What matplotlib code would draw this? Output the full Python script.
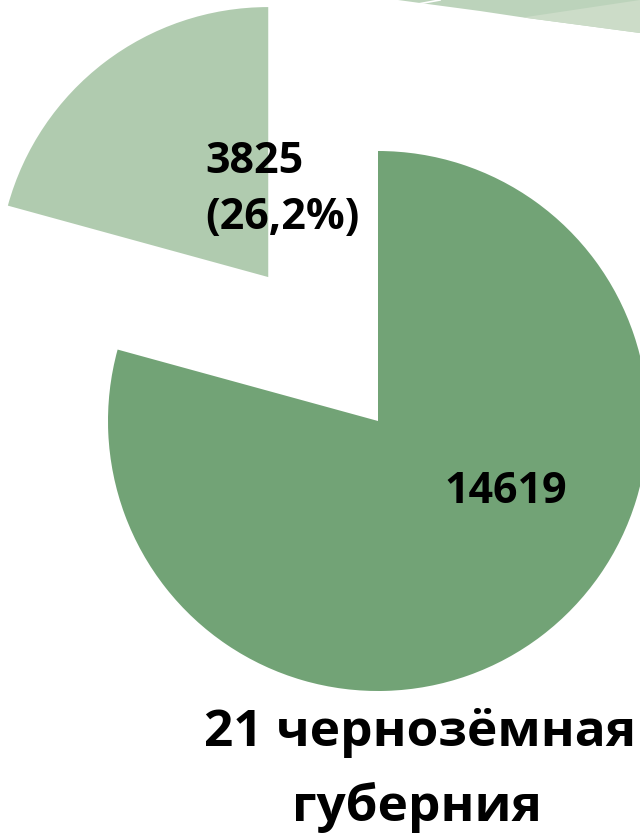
import matplotlib.pyplot as plt
from matplotlib.patches import Polygon

# data
values = [3825, 14619]
small_label = ["3825", "(26,2%)"]
big_label = "14619"
colors = ["#b0cbaf", "#72a376"]
title_lines = ["21 чернозёмная", "губерния"]

W, H = 640, 836
fig = plt.figure(figsize=(W / 100, H / 100), dpi=100)
ax = fig.add_axes([0, 0, 1, 1])

# pie drawn in pixel-like coordinates (y up)
cx, cy, r = 378, H - 421, 270
ax.pie(values, colors=colors, startangle=90, counterclock=True,
       center=(cx, cy), radius=r, explode=[181, 0],
       wedgeprops={"linewidth": 0})

ax.set_xlim(0, W)
ax.set_ylim(0, H)
ax.set_aspect("equal")
ax.axis("off")

# slide decoration at the top right
edge = [(398, 0), (420, 3), (480, 11), (520, 17), (580, 25), (640, 33)]
dark = Polygon([(x, H - y) for x, y in edge] + [(640, H)],
               closed=True, color="#bcd3bb", lw=0)
ax.add_patch(dark)
light = Polygon([(523, H - 17.5), (580, H - 25), (640, H - 33), (640, H)],
                closed=True, color="#ccdcc8", lw=0)
ax.add_patch(light)
ax.plot([418, 440], [H - 4, H], color="white", lw=1.2)

# slice labels
ax.text(205, H - 173, small_label[0], ha="left", va="baseline", fontsize=31,
        fontweight="bold", family="Open Sans")
ax.text(205, H - 229, small_label[1], ha="left", va="baseline", fontsize=31,
        fontweight="bold", family="Open Sans")
ax.text(506, H - 503, big_label, ha="center", va="baseline", fontsize=31,
        fontweight="bold", family="Open Sans")

# title below the pie
ax.text(420, H - 746, title_lines[0], ha="center", va="baseline", fontsize=37,
        fontweight="bold", family="Open Sans")
ax.text(417, H - 821, title_lines[1], ha="center", va="baseline", fontsize=37,
        fontweight="bold", family="Open Sans")

fig.savefig("out.png", dpi=100)
